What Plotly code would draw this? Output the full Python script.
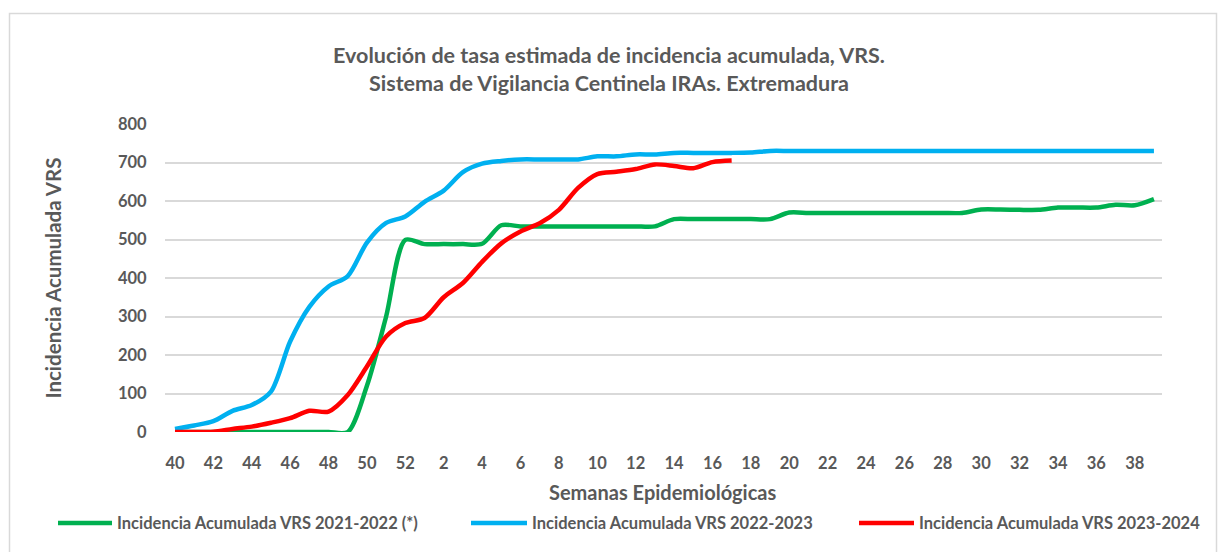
import plotly.graph_objects as go

weeks = list(range(40, 53)) + list(range(1, 40))
tick_labels = [str(w) for w in weeks]

vrs_2021_2022 = [0, 0, 0, 0, 0, 0, 0, 0, 0, 0, 120, 300, 499, 488, 488, 488, 489, 537, 534,
                 534, 534, 534, 534, 534, 534, 534, 553, 553, 553, 553, 553, 553, 570, 569,
                 569, 569, 569, 569, 569, 569, 569, 569, 578, 578, 577, 577, 583, 583, 583,
                 590, 589, 605]
vrs_2022_2023 = [8, 17, 28, 55, 70, 105, 235, 325, 378, 405, 492, 543, 560, 598, 627, 675,
                 697, 704, 708, 708, 708, 708, 716, 716, 721, 721, 725, 725, 725, 725, 726,
                 730, 730, 730, 730, 730, 730, 730, 730, 730, 730, 730, 730, 730, 730, 730,
                 730, 730, 730, 730, 730, 730]
vrs_2023_2024 = [0, 0, 1, 8, 14, 24, 36, 55, 53, 96, 170, 248, 283, 296, 350, 387, 442, 490,
                 521, 542, 577, 634, 670, 676, 683, 695, 691, 685, 701, 705]

series_names = ["Incidencia Acumulada VRS 2021-2022 (*)",
                "Incidencia Acumulada VRS 2022-2023",
                "Incidencia Acumulada VRS 2023-2024"]
series_colors = ["#00B050", "#00B0F0", "#FF0000"]
series_values = [vrs_2021_2022, vrs_2022_2023, vrs_2023_2024]

FONT = "Lato"
GRAY = "#595959"

fig = go.Figure()
for name, color, vals in zip(series_names, series_colors, series_values):
    fig.add_trace(go.Scatter(
        x=list(range(len(vals))), y=vals, name=name, mode="lines",
        line=dict(color=color, width=4.5, shape="spline", smoothing=0.8),
        showlegend=False,
    ))

W, H = 1218, 552
ml, mr, mt, mb = 165, 56, 124, 120
pw, ph = W - ml - mr, H - mt - mb


def px_x(x):
    return (x - ml) / pw


def px_y(y):
    return (H - mb - y) / ph


fig.update_layout(
    width=W, height=H,
    margin=dict(l=ml, r=mr, t=mt, b=mb, autoexpand=False),
    paper_bgcolor="white", plot_bgcolor="white",
    font=dict(family=FONT, color=GRAY),
    title=dict(
        text="<b>Evolución de tasa estimada de incidencia acumulada, VRS.</b><br><b>Sistema de Vigilancia Centinela IRAs. Extremadura</b>",
        x=0.5, xref="container", xanchor="center",
        y=1 - 63 / H, yref="container", yanchor="middle",
        font=dict(family=FONT, size=21.5, color=GRAY),
    ),
    xaxis=dict(
        range=[-0.52, 51.42],
        tickmode="array",
        tickvals=list(range(0, 52, 2)),
        ticktext=tick_labels[0::2],
        showgrid=False, zeroline=False, showline=False,
        ticks="outside", ticklen=16, tickcolor="rgba(0,0,0,0)",
        tickfont=dict(family=FONT, size=16.5, color=GRAY, weight="bold"),
    ),
    yaxis=dict(
        range=[0, 800], tickvals=list(range(0, 801, 100)),
        showgrid=True, gridcolor="#D9D9D9", gridwidth=1.5,
        zeroline=False, showline=False,
        ticks="outside", ticklen=14, tickcolor="rgba(0,0,0,0)",
        tickfont=dict(family=FONT, size=16.5, color=GRAY, weight="bold"),
        title=dict(text="<b>Incidencia Acumulada VRS</b>", standoff=50,
                   font=dict(family=FONT, size=20.5, color=GRAY)),
    ),
    showlegend=False,
)

fig.add_annotation(text="<b>Semanas Epidemiológicas</b>", xref="paper", yref="paper",
                   x=px_x(662), y=px_y(492), xanchor="center", yanchor="middle",
                   showarrow=False, font=dict(family=FONT, size=20, color=GRAY))

# legend (swatch + label per series)
legend_swatch_x = [(58, 112), (471, 527), (859, 914)]
legend_y = 523
for name, color, (sx0, sx1) in zip(series_names, series_colors, legend_swatch_x):
    fig.add_shape(type="line", xref="paper", yref="paper",
                  x0=px_x(sx0), x1=px_x(sx1), y0=px_y(legend_y), y1=px_y(legend_y),
                  line=dict(color=color, width=4.5))
    fig.add_annotation(text="<b>" + name + "</b>", xref="paper", yref="paper",
                       x=px_x(sx1 + 3), y=px_y(legend_y), xanchor="left", yanchor="middle",
                       showarrow=False, font=dict(family=FONT, size=16.5, color=GRAY))

fig.add_shape(type="rect", xref="paper", yref="paper",
              x0=px_x(9.5), x1=px_x(1216.5),
              y0=px_y(560), y1=px_y(13.5),
              line=dict(color="#D9D9D9", width=1.5), layer="below")

fig.write_html("out.html", config={"displayModeBar": False},
               post_script="document.body.style.margin='0px';")
